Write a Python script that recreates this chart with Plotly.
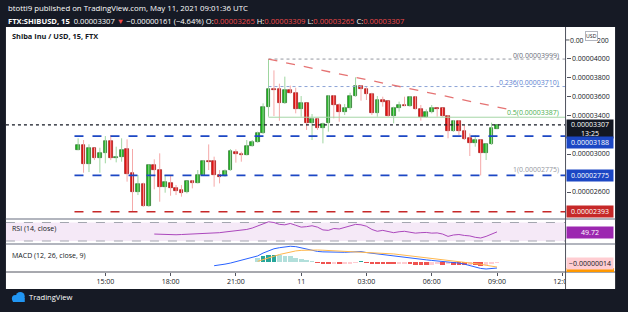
import numpy as np
import pandas as pd
import plotly.graph_objects as go

W, H = 628, 312
FONT = "Open Sans"

# ---------------- data (prices in units of 1e-8 USD) ----------------
START = "2021-05-10 13:45"          # first 15-min candle
opens = [3045, 3091, 2898, 3063, 2961, 3007, 3137, 2958, 2965, 3049,
         2796, 2603, 2684, 2452, 2884, 2831, 2652, 2698, 2642, 2617,
         2596, 2712, 2698, 2775, 2930, 2923, 2779, 2768, 2831, 3024,
         2999, 2989, 3084, 3126, 3217, 3491, 3688, 3684, 3534, 3674,
         3645, 3470, 3533, 3323, 3365, 3270, 3323, 3610, 3516, 3438,
         3488, 3614, 3719, 3681, 3635, 3435, 3568, 3554, 3403, 3484,
         3516, 3505, 3603, 3477, 3389, 3437, 3481, 3481, 3400, 3246,
         3344, 3242, 3165, 3112, 3147, 3014, 3102, 3265]
highs = [3165, 3147, 3102, 3066, 3066, 3189, 3200, 3077, 3165, 3154,
         3053, 2779, 2698, 2891, 2944, 3007, 2779, 2768, 2674, 2673,
         2719, 2726, 2831, 2937, 3101, 2972, 2831, 2838, 3052, 3049,
         3024, 3147, 3147, 3235, 3533, 3999, 3880, 3740, 3814, 3720,
         3698, 3610, 3540, 3421, 3375, 3330, 3621, 3621, 3533, 3526,
         3645, 3807, 3726, 3702, 3645, 3610, 3603, 3561, 3498, 3551,
         3603, 3610, 3610, 3516, 3470, 3516, 3481, 3488, 3410, 3358,
         3358, 3305, 3217, 3200, 3154, 3112, 3330, 3309]
lows = [3040, 2803, 2810, 2936, 2803, 2902, 2936, 2912, 2919, 2709,
        2393, 2568, 2445, 2445, 2628, 2498, 2593, 2561, 2568, 2551,
        2586, 2638, 2691, 2768, 2831, 2656, 2691, 2761, 2824, 2909,
        2919, 2986, 3077, 3119, 3210, 3393, 3400, 3350, 3526, 3635,
        3428, 3393, 3253, 3147, 3253, 3112, 3235, 3375, 3340, 3410,
        3463, 3603, 3561, 3568, 3410, 3393, 3498, 3393, 3323, 3446,
        3505, 3498, 3470, 3351, 3382, 3428, 3393, 3393, 3165, 3235,
        3200, 3147, 2979, 3077, 2775, 2937, 3095, 3265]
closes = [3095, 2898, 3060, 2961, 3007, 3137, 2954, 2962, 3045, 2789,
          2603, 2684, 2452, 2888, 2831, 2656, 2701, 2638, 2614, 2593,
          2712, 2695, 2775, 2930, 2919, 2775, 2761, 2824, 3028, 2999,
          2986, 3084, 3126, 3217, 3491, 3684, 3677, 3534, 3670, 3646,
          3470, 3533, 3323, 3365, 3270, 3316, 3610, 3516, 3438, 3488,
          3614, 3719, 3681, 3628, 3435, 3565, 3551, 3403, 3484, 3512,
          3509, 3603, 3477, 3386, 3439, 3481, 3470, 3400, 3246, 3344,
          3242, 3158, 3112, 3151, 3014, 3102, 3270, 3307]

# RSI(14), starting at candle index 14
rsi_values = [45, 44.5, 44, 43, 43.5, 44, 44.5, 45, 44.5, 45.5,
              46, 46.6, 48, 49.5, 50.5, 51.5, 52.5, 55, 58, 62,
              66, 71.5, 70, 66, 65, 68, 64, 60, 61, 63,
              60, 54, 53, 57, 56, 59, 63, 66, 65, 62,
              55, 51, 53, 51, 48, 50, 51, 49, 47, 48,
              48.5, 47, 47.5, 45, 40, 43, 44, 42, 41, 38,
              36.5, 40, 45, 49.72]
RSI_START = 14
# MACD (1e-8 units) starting at candle index 25; signal/histogram at index 33
macd_values = [-52, -45, -30, -15, 5, 20, 40, 62, 85, 125,
               160, 185, 200, 212, 220, 215, 200, 180, 160, 148,
               142, 138, 135, 134, 136, 140, 142, 146, 132, 122,
               112, 104, 96, 82, 70, 60, 50, 42, 36, 30,
               22, 16, 10, 0, -5, -15, -30, -50, -70, -90,
               -98, -92, -84]
MACD_START = 25
signal_values = [10, 30, 55, 80, 105, 125, 142, 155, 163, 168,
                 170, 168, 165, 161, 157, 153, 150, 148, 146, 144,
                 141, 137, 131, 126, 120, 113, 104, 95, 86, 77,
                 68, 60, 52, 44, 36, 28, 20, 12, 4, -6,
                 -18, -32, -46, -58, -70]
hist_values = [60, 85, 95, 100, 92, 86, 78, 62, 42, 24,
               10, -14, -22, -26, -22, -26, -22, -16, -10, 3,
               -6, -16, -22, -26, -30, -34, -30, -28, -32, -36,
               -38, -40, -36, -32, -36, -32, -36, -40, -44, -40,
               -46, -52, -48, -30, -14]
SIG_START = 33

level_res = 3188
level_sup = 2775
level_low = 2393
last_price = 3307
fib_start = "2021-05-10 22:30"
fib_levels = [("0", 3999, "#9598a1", "dot"),
              ("0.236", 3710, "#8da4d6", "dot"),
              ("0.5", 3387, "#a5d6a7", "solid")]
fib_one = ("1", 2775)
trend_x = ["2021-05-10 22:30", "2021-05-11 09:49"]
trend_y = [3999, 3456]
hline_start = "2021-05-10 13:35"
x_range = ["2021-05-10 10:26", "2021-05-11 12:09"]
time_ticks = ["2021-05-10 15:00", "2021-05-10 18:00", "2021-05-10 21:00",
              "2021-05-11 00:00", "2021-05-11 03:00", "2021-05-11 06:00",
              "2021-05-11 09:00", "2021-05-11 12:00"]
time_labels = ["15:00", "18:00", "21:00", "11", "03:00", "06:00", "09:00", "12:00"]
price_ticks = [2600, 3000, 3400, 3600, 3800, 4000]
top_tick = 4200   # partly hidden behind the "USD" badge

# ---------------- helpers ----------------
E8 = 1e-8
def px(x): return x / W
def py(y): return 1 - y / H
def fmt(v): return "%.8f" % (v * E8)

times = pd.date_range(START, periods=len(opens), freq="15min")
o = np.array(opens, float); c = np.array(closes, float)
hi = np.array(highs, float); lo = np.array(lows, float)
up = c >= o

GREEN, RED = "#1cb51c", "#e31212"
GREEN_W, RED_W = "#9fd6a0", "#f5a9a9"

fig = go.Figure()

# wicks
for mask, col in ((up, GREEN_W), (~up, RED_W)):
    xs, ys = [], []
    for t, l, h_ in zip(times[mask], lo[mask], hi[mask]):
        xs += [t, t, None]; ys += [l * E8, h_ * E8, None]
    fig.add_trace(go.Scatter(x=xs, y=ys, mode="lines", line=dict(color=col, width=1),
                             hoverinfo="skip", showlegend=False, xaxis="x", yaxis="y"))

# bodies
body_h = np.maximum(np.abs(c - o), 6) * E8
body_b = np.minimum(o, c) * E8
fig.add_trace(go.Bar(x=times, y=body_h, base=body_b, width=620000,
                     marker=dict(color=[GREEN if u else RED for u in up],
                                 line=dict(color=["#2f6f30" if u else "#9e1a1a" for u in up], width=0.7)),
                     showlegend=False, xaxis="x", yaxis="y"))

# RSI
fig.add_trace(go.Scatter(x=times[RSI_START:RSI_START + len(rsi_values)], y=rsi_values,
                         mode="lines", line=dict(color="#ab47bc", width=1),
                         showlegend=False, xaxis="x2", yaxis="y2"))

# MACD histogram
hv = np.array(hist_values, float)
hcol = []
for i, v in enumerate(hv):
    prev = hv[i - 1] if i > 0 else None
    if v >= 0:
        hcol.append("#26a69a" if (prev is not None and v > prev) else "#b2dfdb")
    else:
        hcol.append("#ef5350" if (prev is not None and v < prev) else "#ffcdd2")
fig.add_trace(go.Bar(x=times[SIG_START:SIG_START + len(hv)], y=hv * E8, width=760000,
                     marker=dict(color=hcol, line=dict(width=0)),
                     showlegend=False, xaxis="x3", yaxis="y3"))
fig.add_trace(go.Scatter(x=times[MACD_START:MACD_START + len(macd_values)],
                         y=np.array(macd_values) * E8, mode="lines",
                         line=dict(color="#2962ff", width=1), showlegend=False,
                         xaxis="x3", yaxis="y3"))
fig.add_trace(go.Scatter(x=times[SIG_START:SIG_START + len(signal_values)],
                         y=np.array(signal_values) * E8, mode="lines",
                         line=dict(color="#ffb74d", width=1), showlegend=False,
                         xaxis="x3", yaxis="y3"))

shapes = []
# white chart area
shapes.append(dict(type="rect", xref="paper", yref="paper", x0=px(6), x1=px(621),
                   y0=py(289), y1=py(27), fillcolor="white", line=dict(width=0), layer="below"))
# RSI band
shapes.append(dict(type="rect", xref="paper", yref="y2", x0=px(6), x1=px(571), y0=30, y1=70,
                   fillcolor="rgba(156,39,176,0.10)", line=dict(width=0), layer="below"))
for lv in (30, 70):
    shapes.append(dict(type="line", xref="paper", yref="y2", x0=px(6), x1=px(571), y0=lv, y1=lv,
                       line=dict(color="#a3a6af", width=1, dash="dash"), layer="below"))
# fib levels
for name, val, col, dash in fib_levels:
    shapes.append(dict(type="line", xref="x", yref="y", x0=fib_start, x1=x_range[1],
                       y0=val * E8, y1=val * E8, line=dict(color=col, width=1, dash=dash)))
# horizontal support / resistance
for val, col in ((level_res, "#1c47c4"), (level_sup, "#1c47c4"), (level_low, "#c62828")):
    shapes.append(dict(type="line", xref="x", yref="y", x0=hline_start, x1=x_range[1],
                       y0=val * E8, y1=val * E8, line=dict(color=col, width=1.6, dash="dash")))
# last price dotted
shapes.append(dict(type="line", xref="x", yref="y", x0=x_range[0], x1=x_range[1],
                   y0=last_price * E8, y1=last_price * E8,
                   line=dict(color="#131722", width=1.3, dash="dot")))
# descending trendline
shapes.append(dict(type="line", xref="x", yref="y", x0=trend_x[0], x1=trend_x[1],
                   y0=trend_y[0] * E8, y1=trend_y[1] * E8,
                   line=dict(color="#e57373", width=1.3, dash="dash")))
# tick mark for the partly hidden top price label
shapes.append(dict(type="line", xref="paper", yref="y", x0=px(571), x1=px(575),
                   y0=top_tick * E8, y1=top_tick * E8, line=dict(color="#50535e", width=1)))
# cover clipped time label area on price axis
shapes.append(dict(type="rect", xref="paper", yref="paper", x0=px(571), x1=px(621),
                   y0=py(288.5), y1=py(272.5), fillcolor="white", line=dict(width=0), layer="above"))
# pane separators & axis line
for yy, wd, col in ((219, 2, "#b2b5be"), (244, 2, "#b2b5be"), (272, 1, "#50535e")):
    shapes.append(dict(type="line", xref="paper", yref="paper", x0=px(6), x1=px(621),
                       y0=py(yy), y1=py(yy), line=dict(color=col, width=wd), layer="above"))
shapes.append(dict(type="line", xref="paper", yref="paper", x0=px(571), x1=px(571),
                   y0=py(289), y1=py(27), line=dict(color="#50535e", width=1), layer="above"))
# orange signal label stub under MACD label
shapes.append(dict(type="rect", xref="paper", yref="paper", x0=px(572), x1=px(620),
                   y0=py(272), y1=py(268), fillcolor="#ff9800", line=dict(width=0), layer="above"))
# TradingView logo (cloud)
shapes.append(dict(type="circle", xref="paper", yref="paper", x0=px(12), x1=px(19),
                   y0=py(302), y1=py(295), fillcolor="#2196f3", line=dict(width=0)))
shapes.append(dict(type="circle", xref="paper", yref="paper", x0=px(16), x1=px(25),
                   y0=py(301), y1=py(292), fillcolor="#2196f3", line=dict(width=0)))
shapes.append(dict(type="rect", xref="paper", yref="paper", x0=px(13), x1=px(25),
                   y0=py(302), y1=py(298), fillcolor="#2196f3", line=dict(width=0)))

ann = []
def txt(x, y, s, size=7.5, color="#131722", xanchor="left", **kw):
    ann.append(dict(x=px(x), y=py(y), xref="paper", yref="paper", text=s, showarrow=False,
                    xanchor=xanchor, yanchor="middle", font=dict(family=FONT, size=size, color=color), **kw))

R = "#f04848"
txt(6, 8, "btotti9 published on TradingView.com, May 11, 2021 09:01:36 UTC", size=7.8, color="white")
txt(6, 21, "<b>FTX:SHIBUSD, 15</b>  0.00003307 <span style='color:%s'>▼</span> −0.00000161 (−4.64%%) "
           "O:<span style='color:%s'>0.00003265</span> H:<span style='color:%s'>0.00003309</span> "
           "L:<span style='color:%s'>0.00003265</span> C:<span style='color:%s'>0.00003307</span>" % (R, R, R, R, R),
    size=7.6, color="white")
txt(10, 36, "<b>Shiba Inu / USD, 15, FTX</b>", size=7.4)
txt(10, 229, "RSI (14, close)", size=7)
txt(10, 255, "MACD (12, 26, close, 9)", size=7)
txt(27, 297, "TradingView", size=7.6, color="white")

# top price label, split around the USD badge
top_lbl = fmt(top_tick)
txt(574.5, 40, top_lbl[:4], size=6.8, borderpad=0)
txt(616, 40, top_lbl[-3:], size=6.8, xanchor="right", borderpad=0)
ann.append(dict(x=px(597.5), y=py(36), xref="paper", yref="paper", text="USD", showarrow=False,
                xanchor="center", yanchor="middle", bgcolor="white", bordercolor="#b2b5be",
                borderwidth=1, borderpad=0, font=dict(family=FONT, size=5.2, color="#131722")))

# fib labels
fib_lbl_y = {"0": 55, "0.236": 82.5, "0.5": 112}
for name, val, col, dash in fib_levels:
    lbl_col = {"0": "#6a6d78", "0.236": "#5b7fd1", "0.5": "#4caf50"}[name]
    txt(566, fib_lbl_y[name], "%s(%s)" % (name, fmt(val)), size=7, color=lbl_col, xanchor="right")
txt(566, 169.5, "%s(%s)" % (fib_one[0], fmt(fib_one[1])), size=7, color="#9598a1", xanchor="right")

# price axis badges
def badge(y, s, bg, fg="white", h=9):
    ann.append(dict(x=px(596), y=py(y), xref="paper", yref="paper", text=s, showarrow=False,
                    xanchor="center", yanchor="middle", bgcolor=bg, width=44, height=h, borderpad=1,
                    font=dict(family=FONT, size=7, color=fg)))
badge(128.5, "%s<br>13:25" % fmt(last_price), "#131722", h=16)
badge(143, fmt(level_res), "#1c47c4")
badge(175.5, fmt(level_sup), "#1c47c4")
badge(211.5, fmt(level_low), "#c62828")
badge(232, "49.72", "#9c27b0")
badge(263, "−0.00000014", "#ffcdd2", fg="#131722")

xdom = [px(6), px(571)]
common_x = dict(domain=xdom, range=x_range, type="date", showgrid=False, zeroline=False,
                showline=False, fixedrange=True)
fig.update_layout(
    width=W, height=H, margin=dict(l=0, r=0, t=0, b=0),
    paper_bgcolor="#161a25", plot_bgcolor="rgba(0,0,0,0)",
    barmode="overlay", bargap=0, showlegend=False,
    font=dict(family=FONT, size=7, color="#131722"),
    xaxis=dict(anchor="y", showticklabels=False, **common_x),
    xaxis2=dict(anchor="y2", matches="x", showticklabels=False, **common_x),
    xaxis3=dict(anchor="y3", matches="x", tickvals=time_ticks, ticktext=time_labels,
                ticks="outside", ticklen=3, tickcolor="#50535e",
                tickfont=dict(family=FONT, size=7, color="#131722"), **common_x),
    yaxis=dict(domain=[py(219), py(28)], range=[2316 * E8, 4326 * E8], anchor="x", side="right",
               tickvals=[v * E8 for v in price_ticks], ticktext=[fmt(v) for v in price_ticks],
               ticks="outside", ticklen=4, tickcolor="#50535e", showgrid=False, zeroline=False,
               tickfont=dict(family=FONT, size=7, color="#131722"), fixedrange=True),
    yaxis2=dict(domain=[py(244), py(219)], range=[23.5, 77.6], anchor="x2", showticklabels=False,
                showgrid=False, zeroline=False, fixedrange=True),
    yaxis3=dict(domain=[py(272), py(244)], range=[-140 * E8, 252 * E8], anchor="x3",
                showticklabels=False, showgrid=False, zeroline=False, fixedrange=True),
    shapes=shapes, annotations=ann,
)
fig.write_html("out.html")
